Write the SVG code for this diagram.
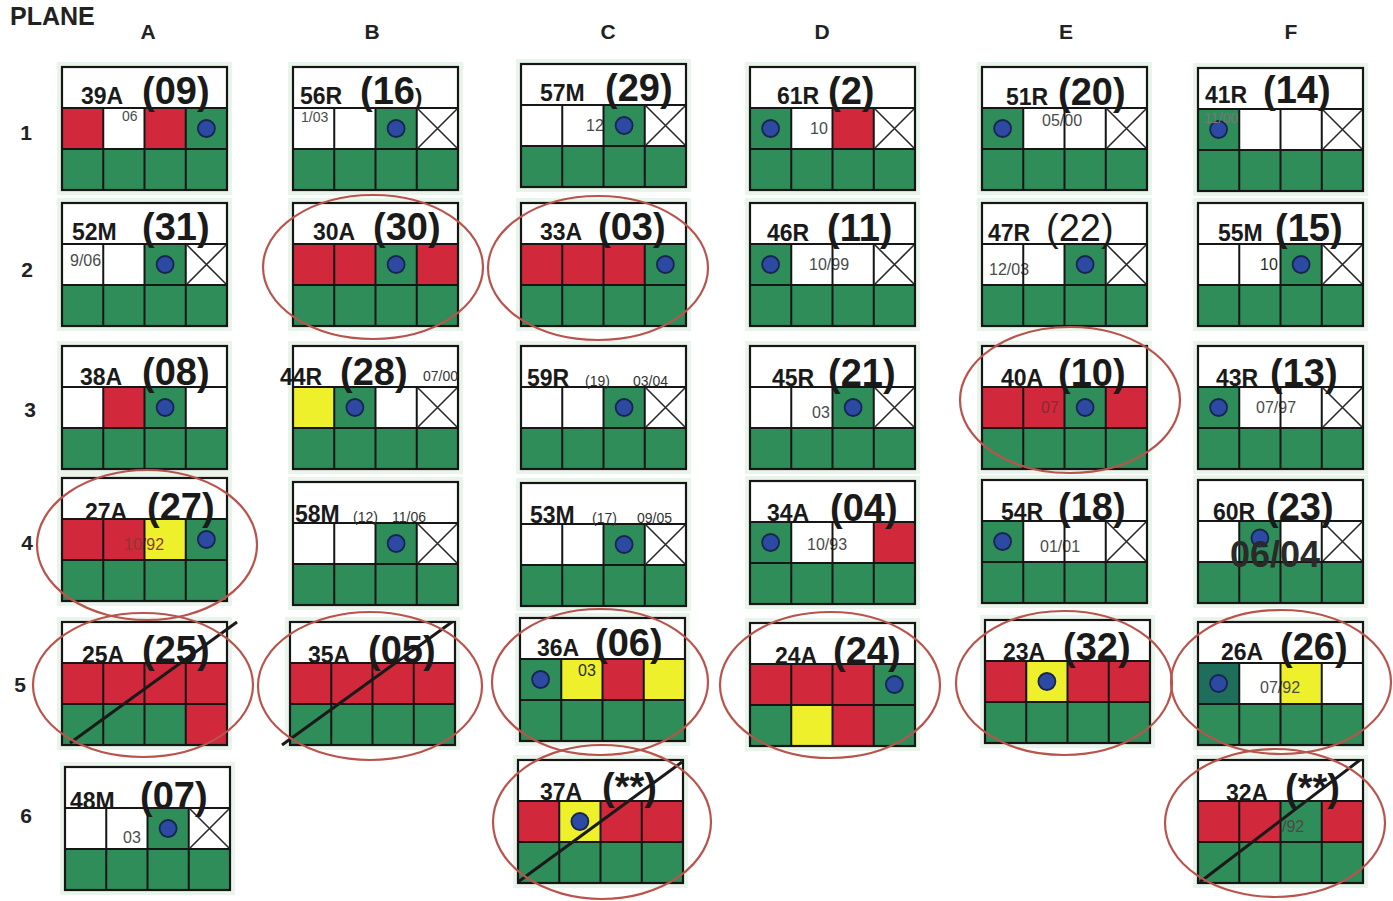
<svg xmlns="http://www.w3.org/2000/svg" xmlns:xlink="http://www.w3.org/1999/xlink" width="1393" height="901" viewBox="0 0 1393 901">
<style>
.w{fill:#fff}
.r{fill:#d1283b}
.g{fill:#2f8d5a}
.t{fill:#1f6e5c}
.y{fill:#eef02c}
.halo{fill:#e9f4ea}
.dot{fill:#2d4aa3;stroke:#18264f;stroke-width:1.8}
.id{font-family:"Liberation Sans",Arial,sans-serif;font-weight:bold;font-size:23px;fill:#1a1a1a}
.num{font-family:"Liberation Sans",Arial,sans-serif;font-weight:bold;font-size:38px;fill:#1a1a1a}
.thin{font-weight:normal}
.sm{font-family:"Liberation Sans",Arial,sans-serif;font-size:16px;fill:#4a4a4a}
.dk{fill:#2a2a2a}
.hs{font-family:"Liberation Sans",Arial,sans-serif;font-size:14px;fill:#333}
.big{font-family:"Liberation Sans",Arial,sans-serif;font-weight:bold;font-size:36px;fill:#2a2a2a}
.lbl{font-family:"Liberation Sans",Arial,sans-serif;font-weight:bold;font-size:21px;fill:#222;text-anchor:middle}
.ell{fill:none;stroke:#b9544c;stroke-width:2.2}
.slash{stroke:#1a1a1a;stroke-width:3;fill:none}
.xm{stroke:#2a2a2a;stroke-width:1.6;fill:none}
</style>
<defs>
<g id="base"><rect class="halo" x="-5" y="-5" width="175" height="133"/><rect class="w" width="165" height="123"/><rect class="g" y="82" width="165" height="41"/></g>
<g id="grid"><path d="M0 41H165M0 82H165M41.25 41V123M82.5 41V123M123.75 41V123" fill="none" stroke="#161616" stroke-width="2"/><rect width="165" height="123" fill="none" stroke="#161616" stroke-width="2.2"/></g>
<path id="xm" class="xm" d="M125 42L164 81M164 42L125 81"/>
</defs>
<rect width="1393" height="901" fill="#fff"/>

<g id="labels">
<text x="10" y="25" class="lbl" style="text-anchor:start;font-size:25px">PLANE</text>
<text x="148" y="39" class="lbl">A</text>
<text x="372" y="39" class="lbl">B</text>
<text x="608" y="39" class="lbl">C</text>
<text x="822" y="39" class="lbl">D</text>
<text x="1066" y="39" class="lbl">E</text>
<text x="1291" y="39" class="lbl">F</text>
<text x="26" y="140" class="lbl">1</text>
<text x="27" y="277" class="lbl">2</text>
<text x="30" y="417" class="lbl">3</text>
<text x="27" y="550" class="lbl">4</text>
<text x="20" y="692" class="lbl">5</text>
<text x="26" y="823" class="lbl">6</text>
</g>

<!-- Row 1 -->
<g id="A1" transform="translate(62,67)">
<use href="#base"/>
<rect class="r" x="0" y="41" width="41.25" height="41"/><rect class="r" x="82.5" y="41" width="41.25" height="41"/><rect class="g" x="123.75" y="41" width="41.25" height="41"/>
<text class="sm" x="60" y="54" style="font-size:14px">06</text>
<circle class="dot" cx="144.4" cy="61.5" r="8.5"/>
<use href="#grid"/>
<text class="id" x="19" y="37">39A</text><text class="num" x="80" y="37">(09)</text>
</g>
<g id="B1" transform="translate(293,67)">
<use href="#base"/>
<rect class="g" x="82.5" y="41" width="41.25" height="41"/>
<text class="sm" x="8" y="55" style="font-size:14px">1/03</text>
<circle class="dot" cx="103.1" cy="61.5" r="8.5"/>
<use href="#grid"/><use href="#xm"/>
<text class="id" x="7" y="37">56R</text><text class="num" x="67" y="37">(16<tspan style="font-size:22px">)</tspan></text>
</g>
<g id="C1" transform="translate(521,64)">
<use href="#base"/>
<rect class="g" x="82.5" y="41" width="41.25" height="41"/>
<text class="sm" x="65" y="67">12</text>
<circle class="dot" cx="103.1" cy="61.5" r="8.5"/>
<use href="#grid"/><use href="#xm"/>
<text class="id" x="19" y="37">57M</text><text class="num" x="84" y="37">(29)</text>
</g>
<g id="D1" transform="translate(750,67)">
<use href="#base"/>
<rect class="g" x="0" y="41" width="41.25" height="41"/><rect class="r" x="82.5" y="41" width="41.25" height="41"/>
<text class="sm" x="60" y="67">10</text>
<circle class="dot" cx="20.6" cy="61.5" r="8.5"/>
<use href="#grid"/><use href="#xm"/>
<text class="id" x="27" y="37">61R</text><text class="num" x="78" y="37">(2)</text>
</g>
<g id="E1" transform="translate(982,67)">
<use href="#base"/>
<rect class="g" x="0" y="41" width="41.25" height="41"/>
<text class="sm" x="60" y="59">05/00</text>
<circle class="dot" cx="20.6" cy="61.5" r="8.5"/>
<use href="#grid"/><use href="#xm"/>
<text class="id" x="24" y="38">51R</text><text class="num" x="76" y="38">(20)</text>
</g>
<g id="F1" transform="translate(1198,68)">
<use href="#base"/>
<rect class="g" x="0" y="41" width="41.25" height="41"/>
<circle class="dot" cx="20.6" cy="61.5" r="8.5"/>
<text class="sm" x="6" y="55" style="fill:#777;font-size:14px">11/00</text>
<use href="#grid"/><use href="#xm"/>
<text class="id" x="7" y="35">41R</text><text class="num" x="65" y="35">(14)</text>
</g>

<!-- Row 2 -->
<g id="A2" transform="translate(62,203)">
<use href="#base"/>
<rect class="g" x="82.5" y="41" width="41.25" height="41"/>
<text class="sm" x="8" y="63">9/06</text>
<circle class="dot" cx="103.1" cy="61.5" r="8.5"/>
<use href="#grid"/><use href="#xm"/>
<text class="id" x="10" y="37">52M</text><text class="num" x="80" y="37">(31)</text>
</g>
<g id="B2" transform="translate(293,203)">
<use href="#base"/>
<rect class="r" x="0" y="41" width="82.5" height="41"/><rect class="g" x="82.5" y="41" width="41.25" height="41"/><rect class="r" x="123.75" y="41" width="41.25" height="41"/>
<circle class="dot" cx="103.1" cy="61.5" r="8.5"/>
<use href="#grid"/>
<text class="id" x="20" y="37">30A</text><text class="num" x="80" y="37">(30)</text>
</g>
<g id="C2" transform="translate(521,203)">
<use href="#base"/>
<rect class="r" x="0" y="41" width="123.75" height="41"/><rect class="g" x="123.75" y="41" width="41.25" height="41"/>
<circle class="dot" cx="144.4" cy="61.5" r="8.5"/>
<use href="#grid"/>
<text class="id" x="19" y="37">33A</text><text class="num" x="77" y="37">(03)</text>
</g>
<g id="D2" transform="translate(750,203)">
<use href="#base"/>
<rect class="g" x="0" y="41" width="41.25" height="41"/>
<text class="sm" x="59" y="67">10/99</text>
<circle class="dot" cx="20.6" cy="61.5" r="8.5"/>
<use href="#grid"/><use href="#xm"/>
<text class="id" x="17" y="38">46R</text><text class="num" x="77" y="38">(11)</text>
</g>
<g id="E2" transform="translate(982,203)">
<use href="#base"/>
<rect class="g" x="82.5" y="41" width="41.25" height="41"/>
<text class="sm" x="7" y="72">12/03</text>
<circle class="dot" cx="103.1" cy="61.5" r="8.5"/>
<use href="#grid"/><use href="#xm"/>
<text class="id" x="6" y="38">47R</text><text class="num thin" x="64" y="38">(22)</text>
</g>
<g id="F2" transform="translate(1198,203)">
<use href="#base"/>
<rect class="g" x="82.5" y="41" width="41.25" height="41"/>
<text class="sm dk" x="62" y="67">10</text>
<circle class="dot" cx="103.1" cy="61.5" r="8.5"/>
<use href="#grid"/><use href="#xm"/>
<text class="id" x="20" y="38">55M</text><text class="num" x="77" y="38">(15)</text>
</g>

<!-- Row 3 -->
<g id="A3" transform="translate(62,346)">
<use href="#base"/>
<rect class="r" x="41.25" y="41" width="41.25" height="41"/><rect class="g" x="82.5" y="41" width="41.25" height="41"/>
<circle class="dot" cx="103.1" cy="61.5" r="8.5"/>
<use href="#grid"/>
<text class="id" x="18" y="39">38A</text><text class="num" x="80" y="39">(08)</text>
</g>
<g id="B3" transform="translate(293,346)">
<use href="#base"/>
<rect class="y" x="0" y="41" width="41.25" height="41"/><rect class="g" x="41.25" y="41" width="41.25" height="41"/>
<circle class="dot" cx="61.9" cy="61.5" r="8.5"/>
<use href="#grid"/><use href="#xm"/>
<text class="id" x="-13" y="39">44R</text><text class="num" x="47" y="39">(28)</text>
<text class="hs" x="130" y="35">07/00</text>
</g>
<g id="C3" transform="translate(521,346)">
<use href="#base"/>
<rect class="g" x="82.5" y="41" width="41.25" height="41"/>
<circle class="dot" cx="103.1" cy="61.5" r="8.5"/>
<use href="#grid"/><use href="#xm"/>
<text class="id" x="6" y="40">59R</text><text class="hs" x="64" y="40">(19)</text><text class="hs" x="112" y="40">03/04</text>
</g>
<g id="D3" transform="translate(750,346)">
<use href="#base"/>
<rect class="g" x="82.5" y="41" width="41.25" height="41"/>
<text class="sm" x="62" y="72">03</text>
<circle class="dot" cx="103.1" cy="61.5" r="8.5"/>
<use href="#grid"/><use href="#xm"/>
<text class="id" x="22" y="40">45R</text><text class="num" x="78" y="40">(21)</text>
</g>
<g id="E3" transform="translate(982,346)">
<use href="#base"/>
<rect class="r" x="0" y="41" width="82.5" height="41"/><rect class="g" x="82.5" y="41" width="41.25" height="41"/><rect class="r" x="123.75" y="41" width="41.25" height="41"/>
<text class="sm" x="59" y="67" style="fill:#8a2a30">07</text>
<circle class="dot" cx="103.1" cy="61.5" r="8.5"/>
<use href="#grid"/>
<text class="id" x="19" y="40">40A</text><text class="num" x="76" y="40">(10)</text>
</g>
<g id="F3" transform="translate(1198,346)">
<use href="#base"/>
<rect class="g" x="0" y="41" width="41.25" height="41"/>
<text class="sm" x="58" y="67">07/97</text>
<circle class="dot" cx="20.6" cy="61.5" r="8.5"/>
<use href="#grid"/><use href="#xm"/>
<text class="id" x="18" y="40">43R</text><text class="num" x="72" y="40">(13)</text>
</g>

<!-- Row 4 -->
<g id="A4" transform="translate(62,478)">
<use href="#base"/>
<rect class="r" x="0" y="41" width="82.5" height="41"/><rect class="y" x="82.5" y="41" width="41.25" height="41"/><rect class="g" x="123.75" y="41" width="41.25" height="41"/>
<text class="sm" x="62" y="72" style="fill:#8a3a30">10/92</text>
<circle class="dot" cx="144.4" cy="61.5" r="8.5"/>
<use href="#grid"/>
<text class="id" x="23" y="42">27A</text><text class="num" x="85" y="42">(27)</text>
</g>
<g id="B4" transform="translate(293,482)">
<use href="#base"/>
<rect class="g" x="82.5" y="41" width="41.25" height="41"/>
<circle class="dot" cx="103.1" cy="61.5" r="8.5"/>
<use href="#grid"/><use href="#xm"/>
<text class="id" x="2" y="40">58M</text><text class="hs" x="60" y="40">(12)</text><text class="hs" x="99" y="40">11/06</text>
</g>
<g id="C4" transform="translate(521,483)">
<use href="#base"/>
<rect class="g" x="82.5" y="41" width="41.25" height="41"/>
<circle class="dot" cx="103.1" cy="61.5" r="8.5"/>
<use href="#grid"/><use href="#xm"/>
<text class="id" x="9" y="40">53M</text><text class="hs" x="71" y="40">(17)</text><text class="hs" x="116" y="40">09/05</text>
</g>
<g id="D4" transform="translate(750,481)">
<use href="#base"/>
<rect class="g" x="0" y="41" width="41.25" height="41"/><rect class="r" x="123.75" y="41" width="41.25" height="41"/>
<text class="sm" x="57" y="69">10/93</text>
<circle class="dot" cx="20.6" cy="61.5" r="8.5"/>
<use href="#grid"/>
<text class="id" x="17" y="40">34A</text><text class="num" x="80" y="40">(04)</text>
</g>
<g id="E4" transform="translate(982,480)">
<use href="#base"/>
<rect class="g" x="0" y="41" width="41.25" height="41"/>
<text class="sm" x="58" y="72">01/01</text>
<circle class="dot" cx="20.6" cy="61.5" r="8.5"/>
<use href="#grid"/><use href="#xm"/>
<text class="id" x="19" y="40">54R</text><text class="num" x="76" y="40">(18)</text>
</g>
<g id="F4" transform="translate(1198,480)">
<use href="#base"/>
<rect class="g" x="41.25" y="41" width="41.25" height="41"/>
<circle class="dot" cx="61.9" cy="58" r="8.5"/>
<use href="#grid"/><use href="#xm"/>
<text class="id" x="15" y="40">60R</text><text class="num" x="68" y="40">(23)</text>
<text class="big" x="32" y="87">06/04</text>
</g>

<!-- Row 5 -->
<g id="A5" transform="translate(62,622)">
<use href="#base"/>
<rect class="r" x="0" y="41" width="165" height="41"/><rect class="r" x="123.75" y="82" width="41.25" height="41"/>
<use href="#grid"/>
<text class="id" x="20" y="41">25A</text><text class="num" x="80" y="41">(25)</text>
<path class="slash" d="M8 121L175 0"/>
</g>
<g id="B5" transform="translate(290,622)">
<use href="#base"/>
<rect class="r" x="0" y="41" width="165" height="41"/>
<use href="#grid"/>
<text class="id" x="18" y="41">35A</text><text class="num" x="78" y="41">(05)</text>
<path class="slash" d="M-8 123L162 0"/>
</g>
<g id="C5" transform="translate(520,618)">
<use href="#base"/>
<rect class="g" x="0" y="41" width="41.25" height="41"/><rect class="y" x="41.25" y="41" width="41.25" height="41"/><rect class="r" x="82.5" y="41" width="41.25" height="41"/><rect class="y" x="123.75" y="41" width="41.25" height="41"/>
<text class="sm dk" x="58" y="58">03</text>
<circle class="dot" cx="20.6" cy="61.5" r="8.5"/>
<use href="#grid"/>
<text class="id" x="17" y="38">36A</text><text class="num" x="75" y="38">(06)</text>
</g>
<g id="D5" transform="translate(750,623)">
<use href="#base"/>
<rect class="r" x="0" y="41" width="123.75" height="41"/><rect class="g" x="123.75" y="41" width="41.25" height="41"/>
<rect class="y" x="41.25" y="82" width="41.25" height="41"/><rect class="r" x="82.5" y="82" width="41.25" height="41"/>
<circle class="dot" cx="144.4" cy="61.5" r="8.5"/>
<use href="#grid"/>
<text class="id" x="25" y="41">24A</text><text class="num" x="83" y="41">(24)</text>
</g>
<g id="E5" transform="translate(985,620)">
<use href="#base"/>
<rect class="r" x="0" y="41" width="165" height="41"/><rect class="y" x="41.25" y="41" width="41.25" height="41"/>
<circle class="dot" cx="61.9" cy="61.5" r="8.5"/>
<use href="#grid"/>
<text class="id" x="18" y="40">23A</text><text class="num" x="78" y="40">(32)</text>
</g>
<g id="F5" transform="translate(1198,622)">
<use href="#base"/>
<rect class="t" x="0" y="41" width="41.25" height="41"/><rect class="y" x="82.5" y="41" width="41.25" height="41"/>
<text class="sm" x="62" y="71">07/92</text>
<circle class="dot" cx="20.6" cy="61.5" r="8.5"/>
<use href="#grid"/>
<text class="id" x="23" y="38">26A</text><text class="num" x="82" y="38">(26)</text>
</g>

<!-- Row 6 -->
<g id="A6" transform="translate(65,767)">
<use href="#base"/>
<rect class="g" x="82.5" y="41" width="41.25" height="41"/>
<text class="sm" x="58" y="76">03</text>
<circle class="dot" cx="103.1" cy="61.5" r="8.5"/>
<use href="#grid"/><use href="#xm"/>
<text class="id" x="5" y="42">48M</text><text class="num" x="75" y="42">(07)</text>
</g>
<g id="C6" transform="translate(518,760)">
<use href="#base"/>
<rect class="r" x="0" y="41" width="165" height="41"/><rect class="y" x="41.25" y="41" width="41.25" height="41"/>
<circle class="dot" cx="61.9" cy="61.5" r="8.5"/>
<use href="#grid"/>
<text class="id" x="22" y="40">37A</text><text class="num" x="84" y="40">(**)</text>
<path class="slash" d="M0 122L164 2"/>
</g>
<g id="F6" transform="translate(1198,760)">
<use href="#base"/>
<rect class="r" x="0" y="41" width="165" height="41"/><rect class="g" x="82.5" y="41" width="41.25" height="41"/>
<text class="sm" x="84" y="72">/92</text>
<use href="#grid"/>
<text class="id" x="28" y="41">32A</text><text class="num" x="87" y="41">(**)</text>
<path class="slash" d="M2 122L162 0"/>
</g>

<g id="marks">
<ellipse class="ell" cx="373" cy="267" rx="110" ry="72"/>
<ellipse class="ell" cx="598" cy="268" rx="110" ry="72"/>
<ellipse class="ell" cx="1070" cy="400" rx="110" ry="73"/>
<ellipse class="ell" cx="147" cy="545" rx="110" ry="75"/>
<ellipse class="ell" cx="143" cy="685" rx="110" ry="72"/>
<ellipse class="ell" cx="370" cy="686" rx="112" ry="74"/>
<ellipse class="ell" cx="600" cy="682" rx="108" ry="73"/>
<ellipse class="ell" cx="830" cy="685" rx="110" ry="73"/>
<ellipse class="ell" cx="1064" cy="683" rx="108" ry="72"/>
<ellipse class="ell" cx="1281" cy="682" rx="110" ry="72"/>
<ellipse class="ell" cx="602" cy="822" rx="109" ry="77"/>
<ellipse class="ell" cx="1275" cy="823" rx="110" ry="74"/>
</g>
</svg>
